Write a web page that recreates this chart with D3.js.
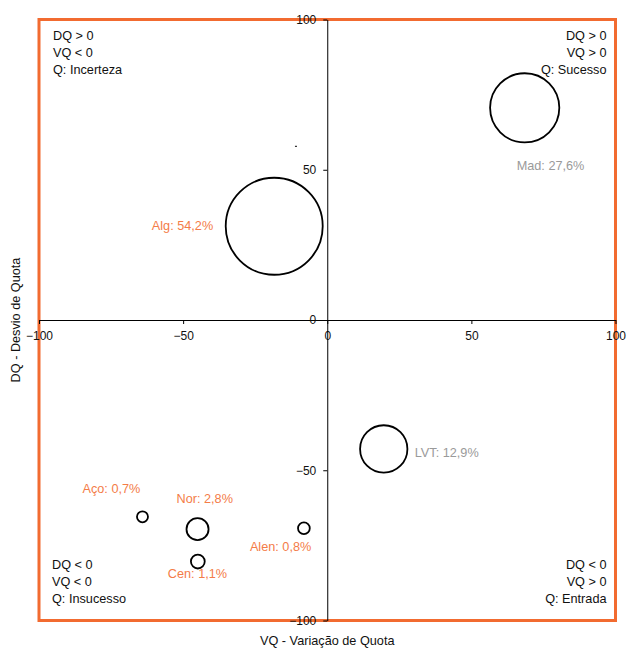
<!DOCTYPE html>
<html><head><meta charset="utf-8">
<script src="https://cdn.jsdelivr.net/npm/d3@7"></script>
<style>body{margin:0;background:#fff}svg{display:block;font-family:Arial,"Liberation Sans",sans-serif}</style>
</head><body>
<svg id="c" width="627" height="648"></svg>
<script>
const names = ["Alg","Mad","LVT","Nor","Aço","Cen","Alen"];
const vq = [-18.4, 68.5, 19.6, -45.0, -64.1, -44.9, -8.1];
const dq = [31.2, 70.6, -42.9, -69.6, -65.5, -80.4, -69.3];
const share = [54.2, 27.6, 12.9, 2.8, 0.7, 1.1, 0.8];
const shareLabels = ["54,2%","27,6%","12,9%","2,8%","0,7%","1,1%","0,8%"];
const ticks = [-100, -50, 0, 50, 100];
const quadrants = [
  ["DQ > 0","VQ < 0","Q: Incerteza"],
  ["DQ > 0","VQ > 0","Q: Sucesso"],
  ["DQ < 0","VQ < 0","Q: Insucesso"],
  ["DQ < 0","VQ > 0","Q: Entrada"]
];

const svg = d3.select("#c");
const x = d3.scaleLinear().domain([-100,100]).range([39,615.5]);
const y = d3.scaleLinear().domain([-100,100]).range([620.5,19.5]);
const r = d3.scaleSqrt().domain([0,54.2]).range([0,48.5]);
const orange = "#f26b30", labOrange = "#f47c48", grey = "#9a9a9a";
const fs = 12.7;

svg.append("rect").attr("x",x(-100)).attr("y",y(100))
  .attr("width",x(100)-x(-100)).attr("height",y(-100)-y(100))
  .attr("fill","none").attr("stroke",orange).attr("stroke-width",3);

const xAxis = svg.append("g").attr("transform",`translate(0,${y(0)})`)
  .call(d3.axisBottom(x).tickValues(ticks).tickSize(4).tickSizeOuter(0).tickPadding(7).tickFormat(d3.format("d")));
const yAxis = svg.append("g").attr("transform",`translate(${x(0)},0)`)
  .call(d3.axisLeft(y).tickValues(ticks).tickSize(4).tickSizeOuter(0).tickPadding(7).tickFormat(d3.format("d")));
[xAxis,yAxis].forEach(g=>{
  g.selectAll("text").attr("font-size",12).attr("fill","#111").attr("font-family","Arial, 'Liberation Sans', sans-serif");
  g.selectAll("line").attr("stroke","#000");
  g.select(".domain").attr("stroke","#000");
});

svg.append("line").attr("x1",x(-11.2)).attr("x2",x(-10.5)).attr("y1",y(57.8)).attr("y2",y(57.8)).attr("stroke","#000");

const data = names.map((n,i)=>({n, x:vq[i], y:dq[i], s:share[i], l:shareLabels[i]}));
svg.append("g").selectAll("circle").data(data).join("circle")
  .attr("cx",d=>x(d.x)).attr("cy",d=>y(d.y)).attr("r",d=>r(d.s))
  .attr("fill","none").attr("stroke","#000").attr("stroke-width",1.8);

const labelPos = {
  "Alg": {dx:-61, dy:-1, anchor:"end", color:labOrange},
  "Mad": {dx:-8, dy:58, anchor:"start", color:grey},
  "LVT": {dx:31, dy:4, anchor:"start", color:grey},
  "Nor": {dx:-21, dy:-31, anchor:"start", color:labOrange},
  "Aço": {dx:-60, dy:-28, anchor:"start", color:labOrange},
  "Cen": {dx:-30, dy:12, anchor:"start", color:labOrange},
  "Alen": {dx:-54, dy:18, anchor:"start", color:labOrange}
};
svg.append("g").selectAll("text").data(data).join("text")
  .attr("x",d=>x(d.x)+labelPos[d.n].dx).attr("y",d=>y(d.y)+labelPos[d.n].dy+4.5)
  .attr("text-anchor",d=>labelPos[d.n].anchor).attr("fill",d=>labelPos[d.n].color)
  .attr("font-size",fs).text(d=>`${d.n}: ${d.l}`);

const qpos = [
  {x:x(-100)+14, y:y(100)+20, a:"start"},
  {x:x(100)-9, y:y(100)+20, a:"end"},
  {x:x(-100)+13, y:y(-100)-52, a:"start"},
  {x:x(100)-9, y:y(-100)-52, a:"end"}
];
quadrants.forEach((lines,i)=>{
  const t = svg.append("text").attr("font-size",fs).attr("fill","#111").attr("text-anchor",qpos[i].a);
  lines.forEach((s,j)=>t.append("tspan").attr("x",qpos[i].x).attr("y",qpos[i].y+j*17.4).text(s));
});

svg.append("text").attr("x",x(0)).attr("y",645).attr("text-anchor","middle")
  .attr("font-size",fs).attr("fill","#111").text("VQ - Variação de Quota");
svg.append("text").attr("transform",`translate(20,${y(0)}) rotate(-90)`).attr("text-anchor","middle")
  .attr("font-size",fs).attr("fill","#111").text("DQ - Desvio de Quota");
</script>
</body></html>
